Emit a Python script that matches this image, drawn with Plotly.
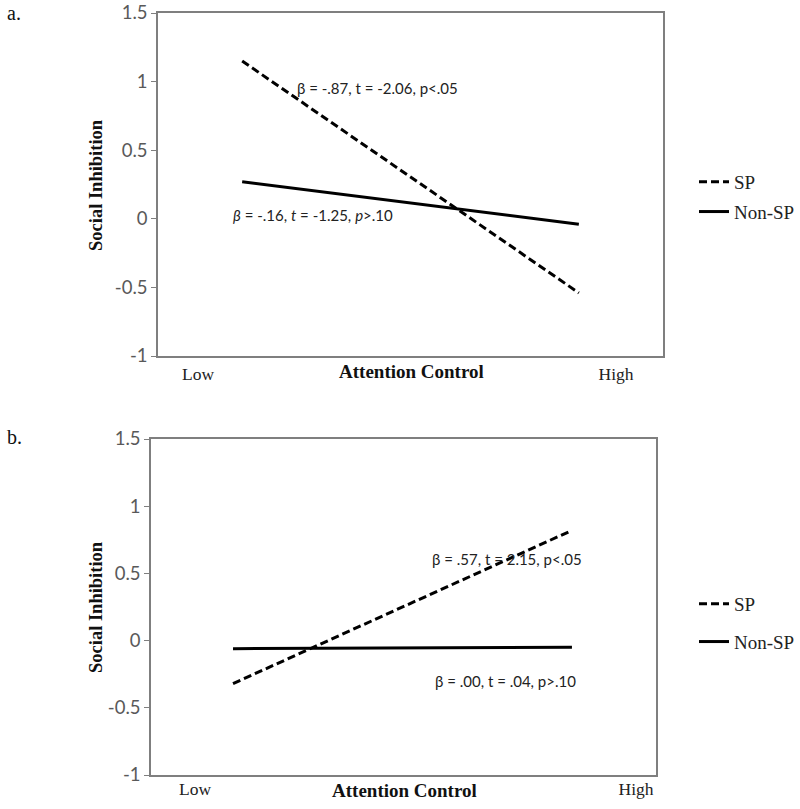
import plotly.graph_objects as go

# ---- data ----
x_levels = [-1, 1]  # Low / High attention control
a_sp = [1.15, -0.54]
a_nonsp = [0.27, -0.04]
b_sp = [-0.32, 0.82]
b_nonsp = [-0.06, -0.05]

y_ticks = [-1, -0.5, 0, 0.5, 1, 1.5]
y_ticktext = ["-1", "-0.5", "0", "0.5", "1", "1.5"]

SERIF = "Liberation Serif"
SANS = "Lato"
AXC = "#7f7f7f"

fig = go.Figure()

fig.add_trace(go.Scatter(x=x_levels, y=a_sp, mode="lines", name="SP",
                         line=dict(color="black", width=3, dash="8px,4px"),
                         xaxis="x", yaxis="y", legend="legend", legendgroup="a1"))
fig.add_trace(go.Scatter(x=x_levels, y=a_nonsp, mode="lines", name="Non-SP",
                         line=dict(color="black", width=3),
                         xaxis="x", yaxis="y", legend="legend", legendgroup="a2"))
fig.add_trace(go.Scatter(x=x_levels, y=b_sp, mode="lines", name="SP",
                         line=dict(color="black", width=3, dash="8px,4px"),
                         xaxis="x2", yaxis="y2", legend="legend2", legendgroup="b1"))
fig.add_trace(go.Scatter(x=x_levels, y=b_nonsp, mode="lines", name="Non-SP",
                         line=dict(color="black", width=3),
                         xaxis="x2", yaxis="y2", legend="legend2", legendgroup="b2"))

W, H = 800, 809

def px(v):
    return v / W

def py(v):
    return 1 - v / H

yax = dict(range=[-1, 1.5], tickvals=y_ticks, ticktext=y_ticktext,
           showline=True, mirror=True, linecolor=AXC, linewidth=1.5,
           ticks="outside", ticklen=5, tickcolor=AXC, showgrid=False,
           zeroline=False, automargin=False,
           tickfont=dict(family=SANS, size=18.5, color="#595959"))
xax_common = dict(showline=True, mirror=True, linecolor=AXC, linewidth=1.5,
                  ticks="", showgrid=False, zeroline=False, automargin=False,
                  tickfont=dict(family=SERIF, size=17.5, color="#222"),
                  ticktext=["Low", "High"])

leg_font = dict(family=SERIF, size=19, color="#222")

fig.update_layout(
    width=W, height=H, margin=dict(l=0, r=0, t=0, b=0, autoexpand=False),
    plot_bgcolor="white", paper_bgcolor="white", showlegend=True,
    xaxis=dict(domain=[px(158), px(663)], anchor="y", range=[-1.5, 1.5],
               tickvals=[-1.262, 1.221], ticklabelstandoff=1, **xax_common),
    yaxis=dict(domain=[py(356), py(13)], anchor="x", **yax),
    xaxis2=dict(domain=[px(151), px(656)], anchor="y2", range=[-1.484, 1.496],
                tickvals=[-1.224, 1.378], ticklabelstandoff=-3, **xax_common),
    yaxis2=dict(domain=[py(775), py(439)], anchor="x2", **yax),
    legend=dict(x=px(694), y=py(163), xanchor="left", yanchor="top",
                font=leg_font, itemwidth=30,
                traceorder="grouped", tracegroupgap=2, bgcolor="rgba(0,0,0,0)"),
    legend2=dict(x=px(694), y=py(585), xanchor="left", yanchor="top",
                 font=leg_font, itemwidth=30,
                 traceorder="grouped", tracegroupgap=10, bgcolor="rgba(0,0,0,0)"),
)

ann = []
# panel labels
ann.append(dict(text="a.", x=px(5), y=py(13), xref="paper", yref="paper",
                xanchor="left", yanchor="middle", showarrow=False,
                font=dict(family=SERIF, size=20, color="#111")))
ann.append(dict(text="b.", x=px(5), y=py(437), xref="paper", yref="paper",
                xanchor="left", yanchor="middle", showarrow=False,
                font=dict(family=SERIF, size=20, color="#111")))
# axis titles
for yc in (185, 607):
    ann.append(dict(text="<b>Social Inhibition</b>", x=px(96), y=py(yc), xref="paper",
                    yref="paper", xanchor="center", yanchor="middle", textangle=-90,
                    showarrow=False, font=dict(family=SERIF, size=18.5, color="#111")))
ann.append(dict(text="<b>Attention Control</b>", x=px(411), y=py(371), xref="paper",
                yref="paper", xanchor="center", yanchor="middle", showarrow=False,
                font=dict(family=SERIF, size=19, color="#111")))
ann.append(dict(text="<b>Attention Control</b>", x=px(404), y=py(790), xref="paper",
                yref="paper", xanchor="center", yanchor="middle", showarrow=False,
                font=dict(family=SERIF, size=19, color="#111")))
# statistics
stat_font = dict(family=SANS, size=15, color="#222")
ann.append(dict(text="β = -.87, t = -2.06, p<.05", x=-0.199, y=0.955, xref="x", yref="y",
                showarrow=False, font=stat_font))
ann.append(dict(text="<i>β</i> = -.16, <i>t</i> = -1.25, <i>p</i>>.10", x=-0.579, y=0.025,
                xref="x", yref="y", showarrow=False, font=stat_font))
ann.append(dict(text="β = .57, t = 2.15, p<.05", x=0.616, y=0.61, xref="x2", yref="y2",
                showarrow=False, font=stat_font))
ann.append(dict(text="β = .00, t = .04, p>.10", x=0.605, y=-0.30, xref="x2", yref="y2",
                showarrow=False, font=stat_font))
fig.update_layout(annotations=ann)

fig.write_html("out.html", config={"displayModeBar": False},
               post_script="document.body.style.margin='0';")
